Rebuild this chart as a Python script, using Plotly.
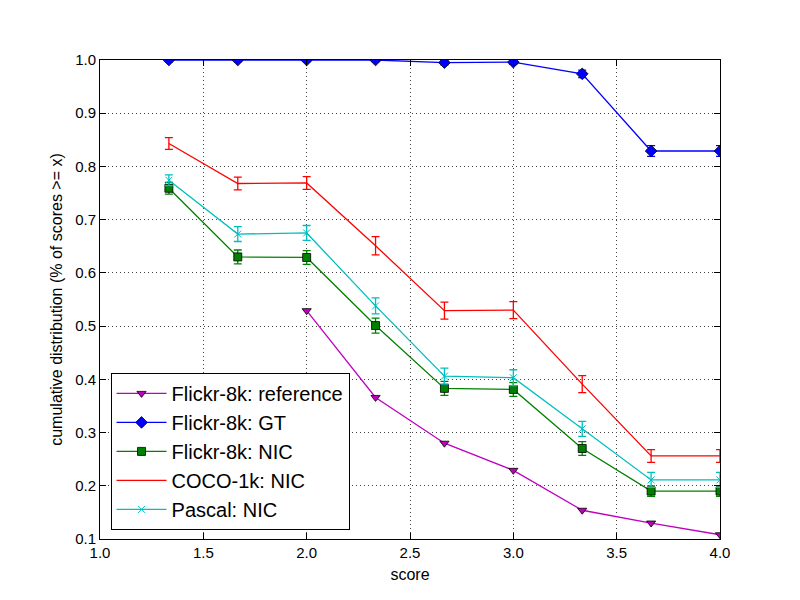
import plotly.graph_objects as go

x_scores = [4/3, 5/3, 2.0, 7/3, 8/3, 3.0, 10/3, 11/3, 4.0]

ref_vals = [None, None, 0.529, 0.366, 0.280, 0.229, 0.154, 0.130, 0.108]

gt_vals = [1.0, 1.0, 1.0, 1.0, 0.995, 0.996, 0.974, 0.829, 0.829]
gt_err = [0.003, 0.003, 0.003, 0.003, 0.004, 0.004, 0.007, 0.010, 0.010]

f8k_nic_vals = [0.759, 0.630, 0.629, 0.501, 0.383, 0.381, 0.270, 0.190, 0.190]
f8k_nic_err = [0.011, 0.013, 0.013, 0.014, 0.013, 0.013, 0.013, 0.010, 0.010]

coco_vals = [0.843, 0.768, 0.769, 0.651, 0.529, 0.530, 0.391, 0.256, 0.256]
coco_err = [0.011, 0.012, 0.012, 0.017, 0.016, 0.016, 0.016, 0.012, 0.012]

pascal_vals = [0.774, 0.673, 0.675, 0.538, 0.406, 0.403, 0.307, 0.211, 0.211]
pascal_err = [0.010, 0.014, 0.014, 0.015, 0.015, 0.015, 0.014, 0.014, 0.014]

x_ticks = [1.0, 1.5, 2.0, 2.5, 3.0, 3.5, 4.0]
y_ticks = [0.1, 0.2, 0.3, 0.4, 0.5, 0.6, 0.7, 0.8, 0.9, 1.0]

C_M = "#bf00bf"
C_B = "#0000ff"
C_G = "#008000"
C_R = "#ff0000"
C_C = "#00bfbf"

fig = go.Figure()

def err(vals, color):
    return dict(type="data", array=vals, visible=True, color=color, thickness=1.3, width=4)

fig.add_trace(go.Scatter(
    x=x_scores, y=ref_vals, name="Flickr-8k: reference", mode="lines+markers",
    line=dict(color=C_M, width=1.3), cliponaxis=True,
    marker=dict(symbol="triangle-down", size=8, color=C_M, line=dict(color="black", width=0.8)),
))
fig.add_trace(go.Scatter(
    x=x_scores, y=gt_vals, name="Flickr-8k: GT", mode="lines+markers",
    line=dict(color=C_B, width=1.3), cliponaxis=True,
    marker=dict(symbol="diamond", size=9, color=C_B, line=dict(color="black", width=0.8)),
    error_y=err(gt_err, C_B),
))
fig.add_trace(go.Scatter(
    x=x_scores, y=f8k_nic_vals, name="Flickr-8k: NIC", mode="lines+markers",
    line=dict(color=C_G, width=1.3),
    marker=dict(symbol="square", size=8, color=C_G, line=dict(color="black", width=0.8)),
    error_y=err(f8k_nic_err, C_G),
))
fig.add_trace(go.Scatter(
    x=x_scores, y=coco_vals, name="COCO-1k: NIC", mode="lines",
    line=dict(color=C_R, width=1.3),
    error_y=err(coco_err, C_R),
))
fig.add_trace(go.Scatter(
    x=x_scores, y=pascal_vals, name="Pascal: NIC", mode="lines+markers",
    line=dict(color=C_C, width=1.3),
    marker=dict(symbol="x-thin-open", size=7, color=C_C, line=dict(color=C_C, width=1)),
    error_y=err(pascal_err, C_C),
))

axis_common = dict(
    showline=True, linecolor="black", linewidth=1, mirror="ticks",
    ticks="inside", ticklen=6, tickcolor="black", tickwidth=1,
    showgrid=True, gridcolor="#444444", griddash="1px,3px", gridwidth=1,
    zeroline=False, tickfont=dict(size=15, color="black"),
)

fig.update_xaxes(
    range=[1.0, 4.0], tickvals=x_ticks, ticktext=[f"{v:.1f}" for v in x_ticks],
    title=dict(text="score", font=dict(size=16, color="black"), standoff=8),
    **axis_common,
)
fig.update_yaxes(
    range=[0.1, 1.0], tickvals=y_ticks, ticktext=[f"{v:.1f}" for v in y_ticks],
    title=dict(text="cumulative distribution (% of scores >= x)", font=dict(size=16, color="black"), standoff=8),
    **axis_common,
)

fig.update_layout(
    width=800, height=600,
    margin=dict(l=92, r=88, t=52, b=69, autoexpand=False),
    paper_bgcolor="white", plot_bgcolor="white",
    font=dict(family="Liberation Sans, Arial, sans-serif", color="black"),
    legend=dict(
        x=0.017, y=0.019, xanchor="left", yanchor="bottom",
        bgcolor="white", bordercolor="black", borderwidth=1,
        font=dict(size=20, color="black"), tracegroupgap=0, itemwidth=50,
    ),
    showlegend=True,
)

fig.write_html("out.html")
